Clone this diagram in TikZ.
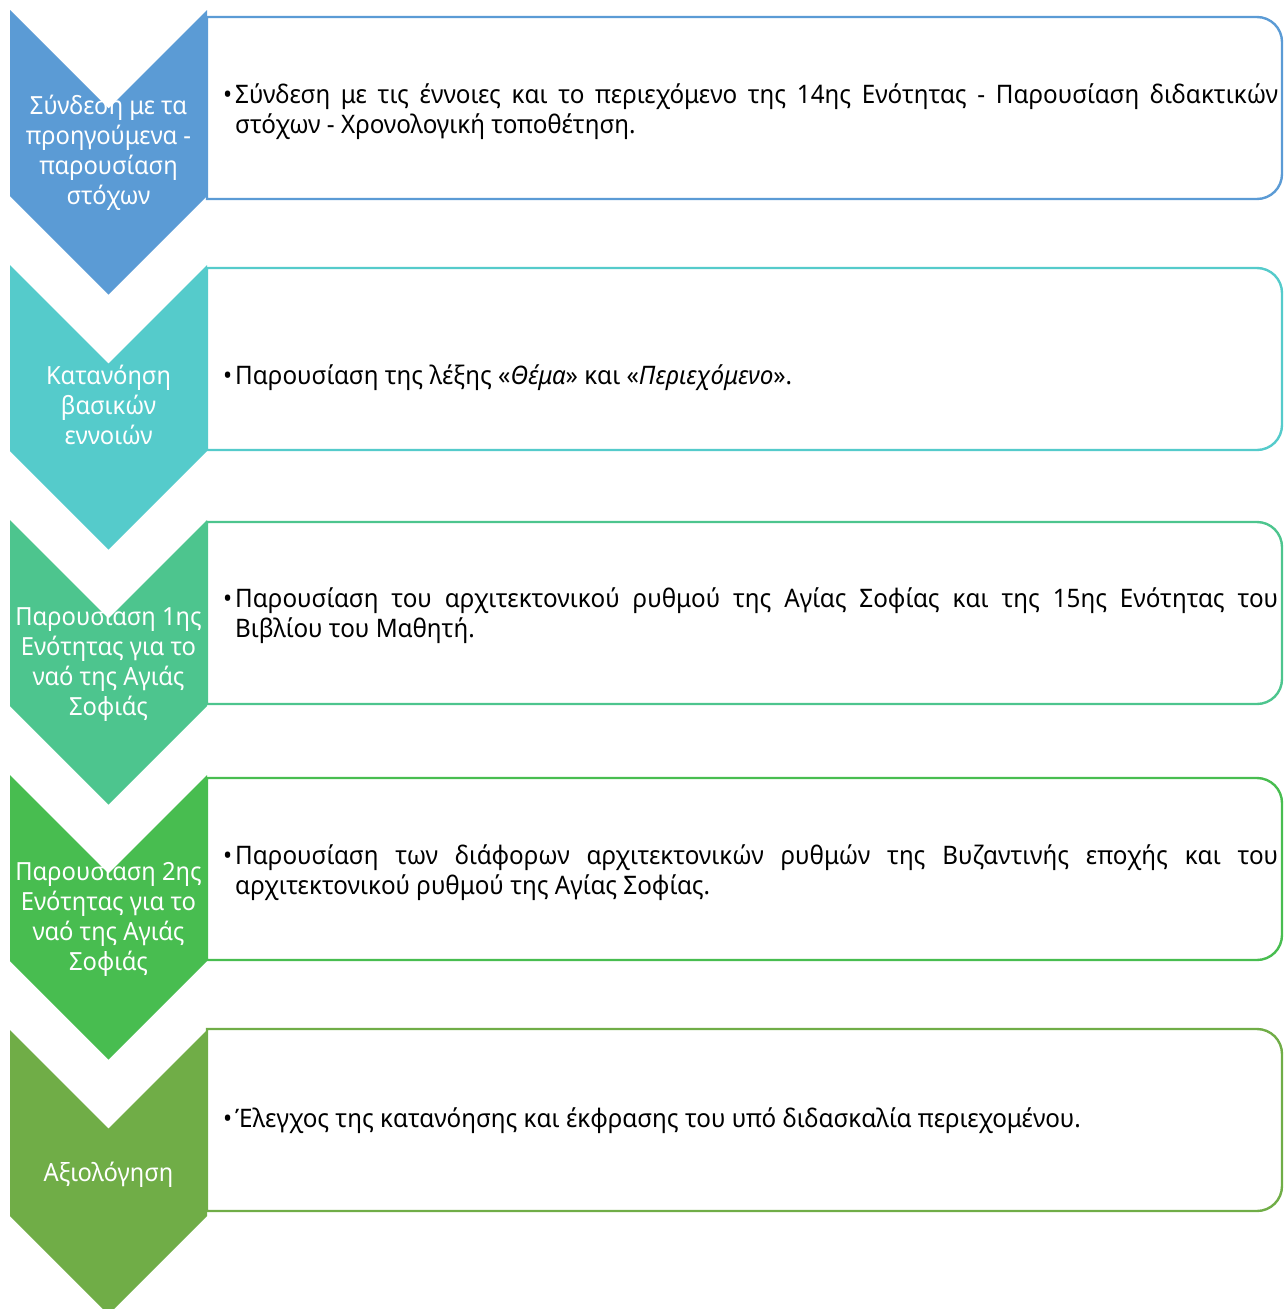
\documentclass[tikz,border=0pt]{standalone}
\usepackage{fontspec}
\setmainfont{Noto Sans}[FakeStretch=0.95]
\definecolor{cA}{HTML}{5B9BD5}
\definecolor{cB}{HTML}{55CBCB}
\definecolor{cC}{HTML}{4DC58E}
\definecolor{cD}{HTML}{48BD50}
\definecolor{cE}{HTML}{70AD47}
\tikzset{
  chevtext/.style={text=white, align=center, anchor=base, inner sep=0pt,
    font=\fontsize{25}{30}\selectfont},
  boxtext/.style={text=black, align=left, anchor=base west, inner sep=0pt,
    font=\fontsize{25.5}{30}\selectfont},
  boxline/.style={line width=2.4pt}
}
\newcommand{\chev}[2]{%
  \fill[#1] (10,#2) -- (108.5,#2+98.5) -- (207,#2) -- (207,#2+186) -- (108.5,#2+284.5) -- (10,#2+186) -- cycle;}
\newcommand{\tbox}[2]{%
  \draw[#1, boxline] (700,#2+182) -- (207,#2+182) -- (207,#2) -- (700,#2) [rounded corners=25pt] -- (1282,#2) -- (1282,#2+182) -- (700,#2+182);}
\newcommand{\fl}[1]{\llap{•\hspace{3pt}}\makebox[1043pt][s]{#1}}
\begin{document}
\begin{tikzpicture}[x=1pt,y=-1pt]
\useasboundingbox (0,0) rectangle (1283,1309);
% chevrons
\chev{cA}{10}
\chev{cB}{265}
\chev{cC}{520}
\chev{cD}{775}
\chev{cE}{1030}
% boxes
\tbox{cA}{17}
\tbox{cB}{268}
\tbox{cC}{522}
\tbox{cD}{778}
\tbox{cE}{1029}
% chevron texts (anchor = baseline of last line)
\node[chevtext] (k1) at (108.5,204) {Σύνδεση με τα\\προηγούμενα -\\παρουσίαση\\στόχων};
\node[chevtext] (k2) at (108.5,444) {Κατανόηση\\βασικών\\εννοιών};
\node[chevtext] (k3) at (108.5,715) {Παρουσίαση 1ης\\Ενότητας για το\\ναό της Αγιάς\\Σοφιάς};
\node[chevtext] (k4) at (108.5,970) {Παρουσίαση 2ης\\Ενότητας για το\\ναό της Αγιάς\\Σοφιάς};
\node[chevtext] (k5) at (108.5,1181) {Αξιολόγηση};
% box texts
\node[boxtext] (t1) at (235,133) {\fl{Σύνδεση με τις έννοιες και το περιεχόμενο της 14ης Ενότητας - Παρουσίαση διδακτικών}\\στόχων - Χρονολογική τοποθέτηση.};
\node[boxtext] (t2) at (235,384) {\llap{•\hspace{3pt}}Παρουσίαση της λέξης «\textit{Θέμα}» και «\textit{Περιεχόμενο}».};
\node[boxtext] (t3) at (235,637) {\fl{Παρουσίαση του αρχιτεκτονικού ρυθμού της Αγίας Σοφίας και της 15ης Ενότητας του}\\Βιβλίου του Μαθητή.};
\node[boxtext] (t4) at (235,894) {\fl{Παρουσίαση των διάφορων αρχιτεκτονικών ρυθμών της Βυζαντινής εποχής και του}\\αρχιτεκτονικού ρυθμού της Αγίας Σοφίας.};
\node[boxtext] (t5) at (235,1127) {\llap{•\hspace{3pt}}Έλεγχος της κατανόησης και έκφρασης του υπό διδασκαλία περιεχομένου.};
\end{tikzpicture}
\end{document}
